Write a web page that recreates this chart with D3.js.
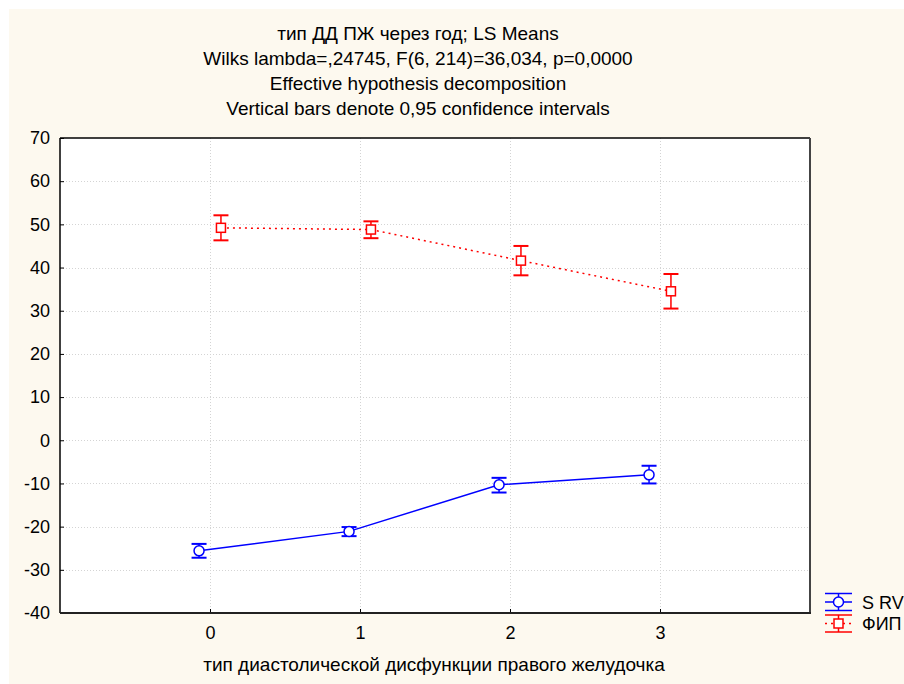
<!DOCTYPE html>
<html>
<head>
<meta charset="utf-8">
<script src="https://cdn.jsdelivr.net/npm/d3@7"></script>
<style>
  body { margin: 0; background: #fff; }
  svg { display: block; font-family: "Liberation Sans", Arial, sans-serif; }
</style>
</head>
<body>
<div id="chart"></div>
<script>
// data
var categories = [0, 1, 2, 3]
var seriesNames = ["S RV", "ФИП"]
var srvMean = [-25.6, -21.1, -10.3, -8.0]
var srvLow = [-27.2, -22.2, -12.1, -10.0]
var srvHigh = [-24.0, -20.1, -8.7, -5.9]
var fipMean = [49.2, 48.8, 41.6, 34.5]
var fipLow = [46.3, 46.8, 38.2, 30.5]
var fipHigh = [52.1, 50.7, 45.0, 38.5]
var yTicks = [70, 60, 50, 40, 30, 20, 10, 0, -10, -20, -30, -40]
var titleLines = [
  "тип ДД ПЖ через год; LS Means",
  "Wilks lambda=,24745, F(6, 214)=36,034, p=0,0000",
  "Effective hypothesis decomposition",
  "Vertical bars denote 0,95 confidence intervals"
]
var xTitle = "тип диастолической дисфункции правого желудочка"

var W = 904, H = 684
var svg = d3.select("#chart").append("svg")
    .attr("width", W)
    .attr("height", H)

// cream background
svg.append("rect")
    .attr("x", 9).attr("y", 9)
    .attr("width", W - 9).attr("height", H - 9)
    .attr("fill", "#fdf9ef")

var pLeft = 60, pRight = 810, pTop = 138, pBottom = 613

var x = d3.scaleLinear().domain([-1, 4]).range([pLeft, pRight])
var y = d3.scaleLinear().domain([-40, 70]).range([pBottom, pTop])

// plain hyphen for negatives, like the original
var fmt = function(d) { return String(d) }

// plot area
svg.append("rect")
    .attr("x", pLeft).attr("y", pTop)
    .attr("width", pRight - pLeft).attr("height", pBottom - pTop)
    .attr("fill", "white")

// grid
svg.append("g").selectAll("line")
    .data(yTicks.filter(function(d) { return d != 70 && d != -40 }))
    .join("line")
    .attr("x1", pLeft).attr("x2", pRight)
    .attr("y1", function(d) { return Math.round(y(d)) + 0.5 })
    .attr("y2", function(d) { return Math.round(y(d)) + 0.5 })
    .attr("stroke", "#d4d4d4")
    .attr("stroke-dasharray", "1,2")

svg.append("g").selectAll("line")
    .data(categories)
    .join("line")
    .attr("y1", pTop).attr("y2", pBottom)
    .attr("x1", function(d) { return Math.round(x(d)) + 0.5 })
    .attr("x2", function(d) { return Math.round(x(d)) + 0.5 })
    .attr("stroke", "#d4d4d4")
    .attr("stroke-dasharray", "1,2")

// axes
var yAxis = d3.axisLeft(y).tickValues(yTicks).tickSize(-4).tickPadding(10).tickFormat(fmt)
var gy = svg.append("g").attr("transform", "translate(" + pLeft + ",0)").call(yAxis)
gy.select(".domain").remove()
gy.selectAll("text").attr("font-size", 18).attr("fill", "#000").attr("font-family", "Liberation Sans, Arial, sans-serif")

var xAxis = d3.axisBottom(x).tickValues(categories).tickSize(-4).tickPadding(13).tickFormat(fmt)
var gx = svg.append("g").attr("transform", "translate(0," + pBottom + ")").call(xAxis)
gx.select(".domain").remove()
gx.selectAll("text").attr("font-size", 18).attr("fill", "#000").attr("font-family", "Liberation Sans, Arial, sans-serif")

// frame
svg.append("line").attr("x1", pLeft).attr("x2", pRight).attr("y1", pTop).attr("y2", pTop).attr("stroke", "#000").attr("stroke-width", 1.5)
svg.append("line").attr("x1", pLeft).attr("x2", pLeft).attr("y1", pTop).attr("y2", pBottom).attr("stroke", "#000").attr("stroke-width", 1.5)
svg.append("line").attr("x1", pRight).attr("x2", pRight).attr("y1", pTop).attr("y2", pBottom + 1).attr("stroke", "#444").attr("stroke-width", 2)
svg.append("line").attr("x1", pLeft).attr("x2", pRight + 1).attr("y1", pBottom).attr("y2", pBottom).attr("stroke", "#222").attr("stroke-width", 2)

// series
var series = [
  { name: seriesNames[0], mean: srvMean, low: srvLow, high: srvHigh, color: "#0000ff", off: -0.073, dash: null, shape: "circle" },
  { name: seriesNames[1], mean: fipMean, low: fipLow, high: fipHigh, color: "#ff0000", off: 0.073, dash: "2,4", shape: "square" }
]

var line = d3.line()
    .x(function(d) { return x(d.c) })
    .y(function(d) { return y(d.v) })

series.forEach(function(s) {
  var pts = categories.map(function(c, i) {
    return { c: c + s.off, v: s.mean[i], lo: s.low[i], hi: s.high[i] }
  })
  var g = svg.append("g")

  g.append("path")
      .datum(pts)
      .attr("d", line)
      .attr("fill", "none")
      .attr("stroke", s.color)
      .attr("stroke-width", 1.5)
      .attr("stroke-dasharray", s.dash)

  var eb = g.selectAll(".eb").data(pts).join("g")
  eb.append("line")
      .attr("x1", function(d) { return x(d.c) }).attr("x2", function(d) { return x(d.c) })
      .attr("y1", function(d) { return y(d.lo) }).attr("y2", function(d) { return y(d.hi) })
      .attr("stroke", s.color).attr("stroke-width", 1.5)
  eb.append("line")
      .attr("x1", function(d) { return x(d.c) - 7.5 }).attr("x2", function(d) { return x(d.c) + 7.5 })
      .attr("y1", function(d) { return y(d.lo) }).attr("y2", function(d) { return y(d.lo) })
      .attr("stroke", s.color).attr("stroke-width", 2)
  eb.append("line")
      .attr("x1", function(d) { return x(d.c) - 7.5 }).attr("x2", function(d) { return x(d.c) + 7.5 })
      .attr("y1", function(d) { return y(d.hi) }).attr("y2", function(d) { return y(d.hi) })
      .attr("stroke", s.color).attr("stroke-width", 2)

  if (s.shape == "circle") {
    eb.append("circle")
        .attr("cx", function(d) { return x(d.c) })
        .attr("cy", function(d) { return y(d.v) })
        .attr("r", 5)
        .attr("fill", "white").attr("stroke", s.color).attr("stroke-width", 1.5)
  } else {
    eb.append("rect")
        .attr("x", function(d) { return x(d.c) - 4.5 })
        .attr("y", function(d) { return y(d.v) - 4.5 })
        .attr("width", 9).attr("height", 9)
        .attr("fill", "white").attr("stroke", s.color).attr("stroke-width", 1.5)
  }
})

// legend
var lg = svg.append("g")
series.forEach(function(s, i) {
  var cy = 602 + i * 21.5
  var lx1 = 825, lx2 = 852, cx = 838.5
  lg.append("line").attr("x1", lx1).attr("x2", lx2).attr("y1", cy - 8.5).attr("y2", cy - 8.5).attr("stroke", s.color).attr("stroke-width", 1.5)
  lg.append("line").attr("x1", lx1).attr("x2", lx2).attr("y1", cy + 8.5).attr("y2", cy + 8.5).attr("stroke", s.color).attr("stroke-width", 1.5)
  lg.append("line").attr("x1", cx).attr("x2", cx).attr("y1", cy - 8.5).attr("y2", cy + 8.5).attr("stroke", s.color).attr("stroke-width", 1.5)
  lg.append("line").attr("x1", lx1).attr("x2", lx2).attr("y1", cy).attr("y2", cy)
      .attr("stroke", s.color).attr("stroke-width", 1.5).attr("stroke-dasharray", s.dash)
  if (s.shape == "circle") {
    lg.append("circle").attr("cx", cx).attr("cy", cy).attr("r", 5)
        .attr("fill", "white").attr("stroke", s.color).attr("stroke-width", 1.5)
  } else {
    lg.append("rect").attr("x", cx - 4.5).attr("y", cy - 4.5).attr("width", 9).attr("height", 9)
        .attr("fill", "white").attr("stroke", s.color).attr("stroke-width", 1.5)
  }
  lg.append("text").attr("x", 862).attr("y", cy + 6.5)
      .attr("font-size", 18).attr("fill", "#000")
      .text(s.name)
})

// titles
svg.append("g").selectAll("text")
    .data(titleLines)
    .join("text")
    .attr("x", 418)
    .attr("y", function(d, i) { return 40 + i * 25 })
    .attr("text-anchor", "middle")
    .attr("font-size", 19)
    .attr("fill", "#000")
    .text(function(d) { return d })

svg.append("text")
    .attr("x", 434)
    .attr("y", 671)
    .attr("text-anchor", "middle")
    .attr("font-size", 19)
    .attr("fill", "#000")
    .text(xTitle)
</script>
</body>
</html>
